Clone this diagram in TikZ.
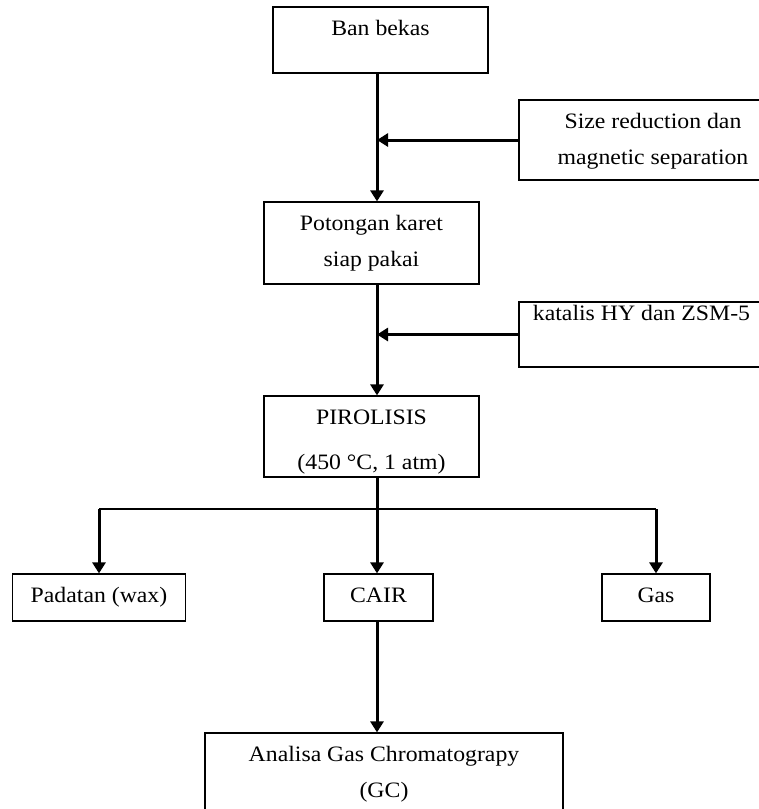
\documentclass[tikz,border=0pt]{standalone}
\usepackage{fontspec}
\setmainfont{Liberation Serif}[FakeStretch=1.08]
\usepackage{tikz}
\usetikzlibrary{arrows.meta, positioning, calc}
\newcommand{\boxfont}{\fontsize{22}{36}\selectfont}

\tikzset{
    box/.style={draw, line width=1.2pt, inner sep=0pt},
    lbl/.style={anchor=north, inner sep=0pt, yshift=-14pt, align=center, font=\boxfont},
    flow/.style={line width=3pt, -{Triangle[width=13pt,length=11pt]}},
    split/.style={line width=1.5pt}
}

\begin{document}
\begin{tikzpicture}[x=1pt, y=-1pt]
    \clip (0,0) rectangle (759,809);
    \fill[white] (0,0) rectangle (759,809);

    % Main line
    \coordinate (spine) at (377,0);
    \coordinate (fork) at (377,509);

    % Process boxes
    \node[box, minimum width=215pt, minimum height=66pt, label={[lbl]north:Ban bekas}] (ban) at (380.5,40) {};
    \node[box, minimum width=215pt, minimum height=82pt, label={[lbl]north:{Potongan karet\\siap pakai}}] (pot) at (371.5,243) {};
    \node[box, minimum width=215pt, minimum height=81pt, label={[lbl]north:{PIROLISIS\\[9pt](450 °C, 1 atm)}}] (piro) at (371.5,436.5) {};

    % Inputs
    \node[box, minimum width=268pt, minimum height=80pt, label={[lbl]north:{Size reduction dan\\magnetic separation}}] (sizered) at (653,140) {};
    \node[box, minimum width=245pt, minimum height=65pt, label={[lbl, yshift=10pt]north:katalis HY dan ZSM-5}] (katalis) at (641.5,334.5) {};

    % Products
    \node[box, minimum width=173pt, minimum height=47pt, label={[lbl]north:Padatan (wax)}] (padatan) at (99,597.5) {};
    \node[box, minimum width=109pt, minimum height=47pt, label={[lbl]north:CAIR}] (cair) at (378.5,597.5) {};
    \node[box, minimum width=108pt, minimum height=47pt, label={[lbl]north:Gas}] (gas) at (656,597.5) {};

    % Analysis
    \node[box, minimum width=358pt, minimum height=97pt, label={[lbl]north:{Analisa Gas Chromatograpy\\(GC)}}] (analisa) at (384,781.5) {};

    % Arrows
    \draw[flow] (ban.south -| spine) -- (pot.north -| spine);
    \draw[flow] (sizered.west) -- (sizered.west -| spine);
    \draw[flow] (pot.south -| spine) -- (piro.north -| spine);
    \draw[flow] (katalis.west) -- (katalis.west -| spine);
    \draw[flow] (piro.south -| spine) -- (cair.north -| spine);
    \draw[split] (padatan.north |- fork) -- (gas.north |- fork);
    \draw[flow] (padatan.north |- fork) -- (padatan.north);
    \draw[flow] (gas.north |- fork) -- (gas.north);
    \draw[flow] (cair.south -| spine) -- (analisa.north -| spine);
\end{tikzpicture}
\end{document}
